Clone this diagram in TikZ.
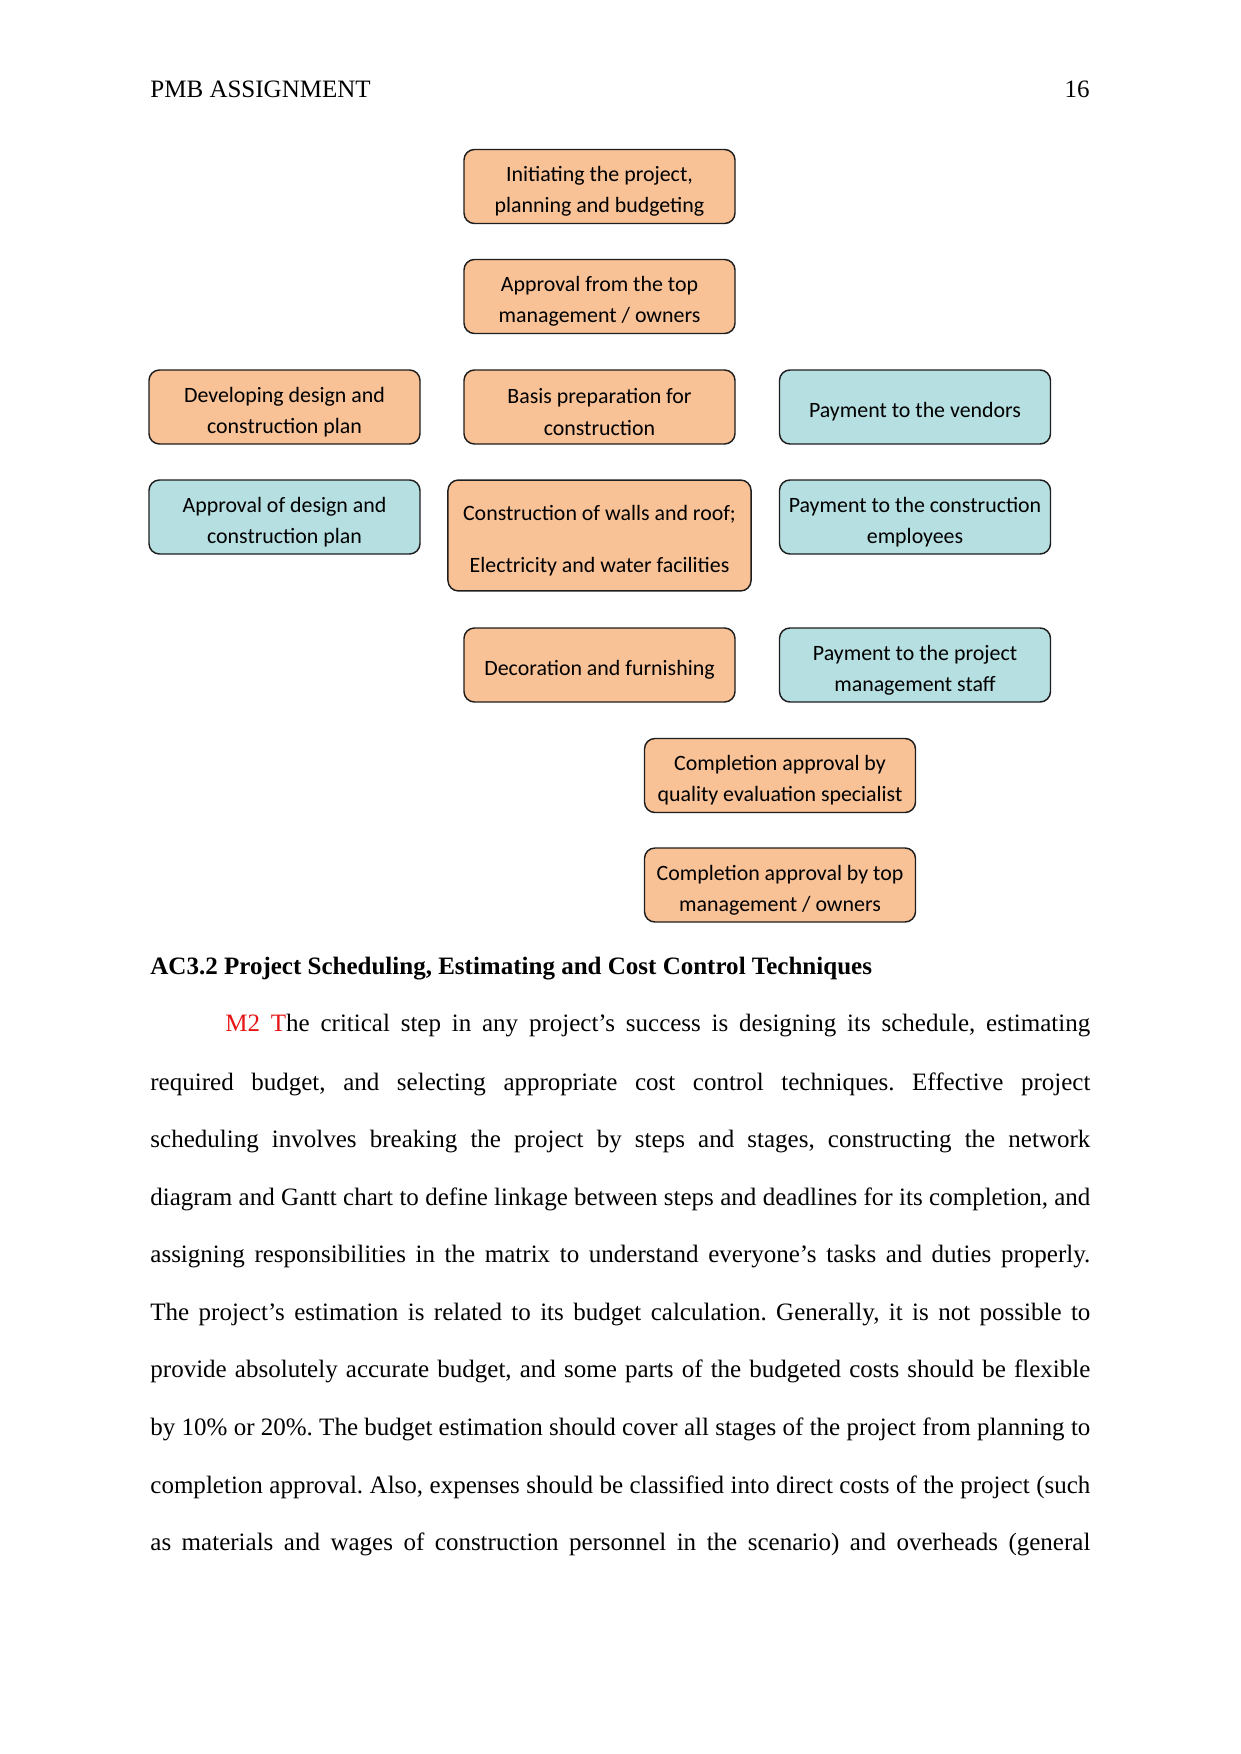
\documentclass[tikz,border=0pt]{standalone}
\usepackage{fontspec}
\setmainfont{Liberation Serif}
\newfontfamily\boxfont{Carlito}
\definecolor{peach}{RGB}{248,193,150}
\definecolor{paleblue}{RGB}{182,223,225}
\definecolor{edgegray}{RGB}{30,30,30}
\definecolor{mred}{RGB}{230,20,20}
\frenchspacing
\tikzset{
  basebox/.style={draw=edgegray, line width=0.7pt, rounded corners=5pt,
    minimum width=130pt, minimum height=35.5pt, inner sep=0pt},
  obox/.style={basebox, fill=peach},
  bbox/.style={basebox, fill=paleblue},
  boxtext/.style={align=center, inner sep=0pt, yshift=-2.4pt,
    font=\boxfont\fontsize{10.5}{15}\selectfont},
  bodyline/.style={anchor=base west, inner sep=0pt, font=\fontsize{12}{14}\selectfont},
}
\begin{document}
\begin{tikzpicture}[x=0.4797pt, y=-0.4797pt]
\useasboundingbox (0,0) rectangle (1241,1754);
% header
\node[bodyline] (hdr) at (150,97.4) {PMB ASSIGNMENT};
\node[anchor=base east, inner sep=0pt, font=\fontsize{12}{14}\selectfont] (pg) at (1090,97.4) {16};
% boxes
\node[obox, label={[boxtext]center:{Initiating the project,\\planning and budgeting}}] (b1) at (599.5,186.5) {};
\node[obox, label={[boxtext]center:{Approval from the top\\management / owners}}] (b2) at (599.5,296.5) {};
\node[obox, label={[boxtext]center:{Developing design and\\construction plan}}] (b3) at (284.5,407) {};
\node[obox, label={[boxtext]center:{Basis preparation for\\construction}}] (b4) at (599.5,407) {};
\node[bbox, label={[boxtext]center:{Payment to the vendors}}] (b5) at (915,407) {};
\node[bbox, label={[boxtext]center:{Approval of design and\\construction plan}}] (b6) at (284.5,517) {};
\node[obox, minimum width=145.4pt, minimum height=53.2pt, label={[boxtext]center:{Construction of walls and roof;\\[9.7pt]Electricity and water facilities}}] (b7) at (599.5,535.5) {};
\node[bbox, label={[boxtext]center:{Payment to the construction\\employees}}] (b8) at (915,517) {};
\node[obox, label={[boxtext]center:{Decoration and furnishing}}] (b9) at (599.5,665) {};
\node[bbox, label={[boxtext]center:{Payment to the project\\management staff}}] (b10) at (915,665) {};
\node[obox, label={[boxtext]center:{Completion approval by\\quality evaluation specialist}}] (b11) at (780,775.5) {};
\node[obox, label={[boxtext]center:{Completion approval by top\\management / owners}}] (b12) at (780,885) {};
% heading
\node[bodyline, font=\fontsize{12}{14}\selectfont\bfseries] (head) at (150,974.4) {AC3.2 Project Scheduling, Estimating and Cost Control Techniques};
% body
\node[bodyline] (l1) at (225,1031.4) {\makebox[414.9pt][s]{\textcolor{mred}{M2 T}he critical step in any project’s success is designing its schedule, estimating}};
\node[bodyline] (l2) at (150,1090.4) {\makebox[450.9pt][s]{required budget, and selecting appropriate cost control techniques. Effective project}};
\node[bodyline] (l3) at (150,1147.4) {\makebox[450.9pt][s]{scheduling involves breaking the project by steps and stages, constructing the network}};
\node[bodyline] (l4) at (150,1205.4) {\makebox[450.9pt][s]{diagram and Gantt chart to define linkage between steps and deadlines for its completion, and}};
\node[bodyline] (l5) at (150,1262.4) {\makebox[450.9pt][s]{assigning responsibilities in the matrix to understand everyone’s tasks and duties properly.}};
\node[bodyline] (l6) at (150,1320.4) {\makebox[450.9pt][s]{The project’s estimation is related to its budget calculation. Generally, it is not possible to}};
\node[bodyline] (l7) at (150,1377.4) {\makebox[450.9pt][s]{provide absolutely accurate budget, and some parts of the budgeted costs should be flexible}};
\node[bodyline] (l8) at (150,1435.4) {\makebox[450.9pt][s]{by 10\% or 20\%. The budget estimation should cover all stages of the project from planning to}};
\node[bodyline] (l9) at (150,1493.4) {\makebox[450.9pt][s]{completion approval. Also, expenses should be classified into direct costs of the project (such}};
\node[bodyline] (l10) at (150,1550.4) {\makebox[450.9pt][s]{as materials and wages of construction personnel in the scenario) and overheads (general}};
\end{tikzpicture}
\end{document}
